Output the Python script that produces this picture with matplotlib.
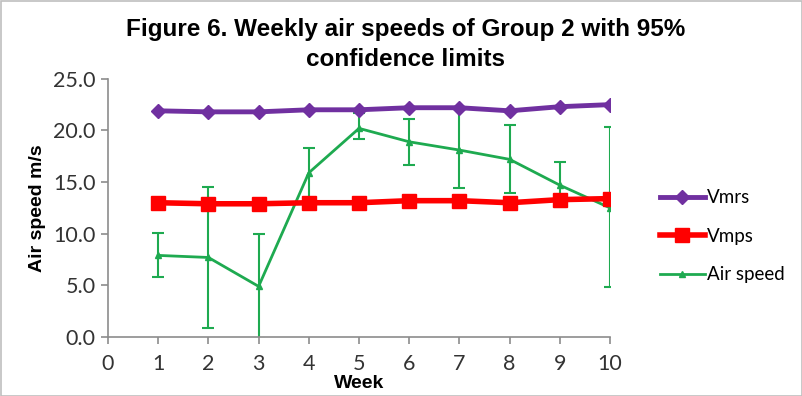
import matplotlib
matplotlib.use("Agg")
import matplotlib.pyplot as plt
from matplotlib.patches import Rectangle
from matplotlib.lines import Line2D

weeks = [1, 2, 3, 4, 5, 6, 7, 8, 9, 10]
vmrs = [21.9, 21.8, 21.8, 22.0, 22.0, 22.2, 22.2, 21.9, 22.3, 22.5]
vmps = [13.0, 12.9, 12.9, 13.0, 13.0, 13.2, 13.2, 13.0, 13.3, 13.4]
air_speed = [7.9, 7.7, 4.9, 15.9, 20.2, 18.9, 18.1, 17.2, 14.7, 12.5]
ci_upper = [10.1, 14.5, 10.0, 18.3, 21.7, 21.1, 22.1, 20.5, 16.9, 20.3]
ci_lower = [5.8, 0.9, -0.2, 13.5, 19.2, 16.7, 14.4, 13.9, 12.6, 4.8]

xticks = [0, 1, 2, 3, 4, 5, 6, 7, 8, 9, 10]
yticks = [0, 5, 10, 15, 20, 25]
ytick_labels = ["0.0", "5.0", "10.0", "15.0", "20.0", "25.0"]

title = "Figure 6. Weekly air speeds of Group 2 with 95%\nconfidence limits"

purple = "#7030A0"
red = "#FF0000"
green = "#1EAA50"
axis_gray = "#8C8C8C"

fig = plt.figure(figsize=(8.03, 3.96), dpi=100)
ax = fig.add_axes([0.1345, 0.149, 0.6252, 0.652])

err_lo = [a - l for a, l in zip(air_speed, ci_lower)]
err_hi = [u - a for a, u in zip(air_speed, ci_upper)]

ax.errorbar(weeks, air_speed, yerr=[err_lo, err_hi], color=green, lw=2,
            marker="^", markersize=5, capsize=4, capthick=1.5, elinewidth=1.5,
            zorder=2)
ax.plot(weeks, vmps, color=red, lw=4, marker="s", markersize=10, zorder=3)
ax.plot(weeks, vmrs, color=purple, lw=3.5, marker="D", markersize=7, zorder=3)

ax.set_xlim(0, 10)
ax.set_ylim(0, 25)
ax.set_xticks(xticks)
ax.set_yticks(yticks)
ax.set_yticklabels(ytick_labels)

for s in ["top", "right"]:
    ax.spines[s].set_visible(False)
for s in ["left", "bottom"]:
    ax.spines[s].set_color(axis_gray)
    ax.spines[s].set_linewidth(1.2)

ax.tick_params(axis="both", colors=axis_gray, length=5, width=1.2,
               labelcolor="#333333", labelsize=15.5)
for lab in ax.get_xticklabels() + ax.get_yticklabels():
    lab.set_family("Lato")
ax.tick_params(axis="x", pad=7)
ax.tick_params(axis="y", pad=4)

ax.set_ylabel("Air speed m/s", fontsize=14, fontweight="bold",
              family="Liberation Sans", labelpad=5)
ax.set_xlabel("Week", fontsize=14, fontweight="bold",
              family="Liberation Sans", labelpad=1)

fig.suptitle(title, fontsize=17.5, fontweight="bold", family="Liberation Sans",
             x=0.505, y=0.955, linespacing=1.4)

handles = [
    Line2D([], [], color=purple, lw=3.5, marker="D", markersize=7),
    Line2D([], [], color=red, lw=4, marker="s", markersize=10),
    Line2D([], [], color=green, lw=2, marker="^", markersize=5),
]
labels = ["Vmrs", "Vmps", "Air speed"]
ax.legend(handles, labels, loc="center left", bbox_to_anchor=(1.065, 0.39),
          frameon=False, prop={"family": "Lato", "size": 13.5},
          labelspacing=1.15, handlelength=2.4, handletextpad=0.15)

fig.patches.append(Rectangle((0.001, 0.001), 0.998, 0.997, transform=fig.transFigure,
                             fill=False, edgecolor="#BFBFBF", lw=1.2))

fig.savefig("out.png", dpi=100)
